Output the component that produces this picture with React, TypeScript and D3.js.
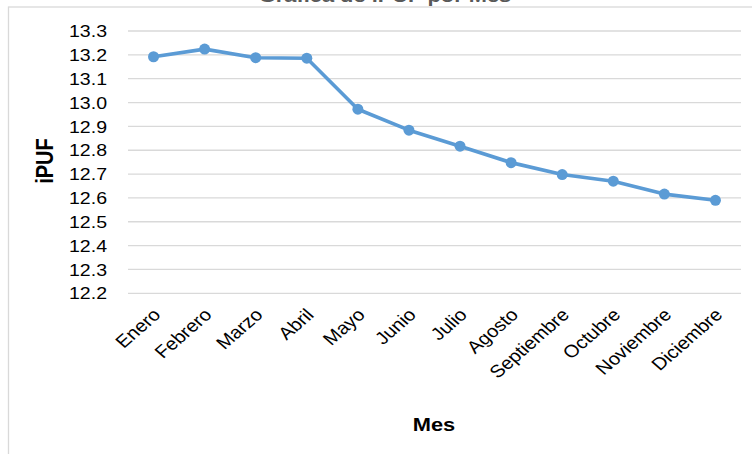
import * as d3 from 'd3'

const months = ['Enero', 'Febrero', 'Marzo', 'Abril', 'Mayo', 'Junio', 'Julio', 'Agosto', 'Septiembre', 'Octubre', 'Noviembre', 'Diciembre']
const ipuf = [13.192, 13.224, 13.188, 13.186, 12.972, 12.884, 12.817, 12.748, 12.698, 12.670, 12.616, 12.590]
const yTicks = [12.2, 12.3, 12.4, 12.5, 12.6, 12.7, 12.8, 12.9, 13.0, 13.1, 13.2, 13.3]

const W = 752
const H = 454
const plot = { left: 128, right: 741, top: 31, bottom: 293.3 }
const font = '"Liberation Sans", Arial, sans-serif'
const blue = '#5B9BD5'
const sx = 1.15

const App = () => {
    const x = d3.scalePoint<string>().domain(months).range([plot.left, plot.right]).padding(0.5)
    const y = d3.scaleLinear().domain([12.2, 13.3]).range([plot.bottom, plot.top])

    const line = d3.line<number>()
        .x((_, i) => x(months[i]) as number)
        .y(d => y(d))

    return (
        <svg width={W} height={H} style={{ position: 'absolute', left: 0, top: 0, background: '#fff' }}>
            <rect x={8.5} y={7} width={W + 20} height={H + 20} fill="#fff" stroke="#d9d9d9" strokeWidth={1.3} />
            <text transform={`translate(385,1.5) scale(${sx},1)`} textAnchor="middle" fontFamily={font}
                fontWeight="bold" fontSize={19} fill="#595959">Gráfica de iPUF por Mes</text>

            {yTicks.map(t => (
                <g key={t}>
                    <line x1={plot.left} x2={plot.right} y1={y(t)} y2={y(t)} stroke="#d9d9d9" strokeWidth={1.3} />
                    <text transform={`translate(107,${y(t)}) scale(${sx},1)`} dy="0.36em" textAnchor="end"
                        fontFamily={font} fontSize={17} fill="#000">{t.toFixed(1)}</text>
                </g>
            ))}

            {months.map(m => (
                <text key={m} transform={`translate(${(x(m) as number) - 2},307) scale(${sx},1) rotate(-45)`}
                    dy="0.72em" textAnchor="end" fontFamily={font} fontSize={17.5} fill="#000">{m}</text>
            ))}

            <path d={line(ipuf) ?? ''} fill="none" stroke={blue} strokeWidth={3.6} strokeLinejoin="round" />
            {ipuf.map((v, i) => (
                <circle key={i} cx={x(months[i])} cy={y(v)} r={5.5} fill={blue} />
            ))}

            <text transform={`translate(434,431) scale(${sx},1)`} textAnchor="middle" fontFamily={font}
                fontWeight="bold" fontSize={19} fill="#000">Mes</text>
            <text transform={`translate(53,161) scale(${sx},1) rotate(-90)`} textAnchor="middle" fontFamily={font}
                fontWeight="bold" fontSize={20} fill="#000">iPUF</text>
        </svg>
    )
}

export default App
